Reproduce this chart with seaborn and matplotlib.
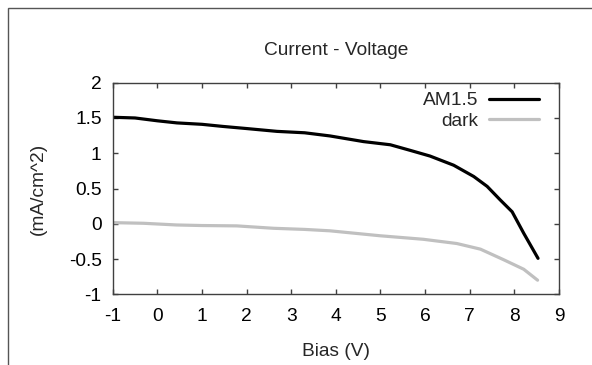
import numpy as np
import pandas as pd
import matplotlib
matplotlib.use("Agg")
import matplotlib.pyplot as plt
import seaborn as sns
from matplotlib.patches import Rectangle

# ---- data ----
bias_am = [-1.0, -0.5, 0.0, 0.44, 1.0, 1.47, 2.0, 2.68, 3.3, 3.87, 4.62, 5.22, 5.67,
           6.11, 6.64, 7.09, 7.39, 7.68, 7.95, 8.21, 8.53]
current_am = [1.51, 1.50, 1.46, 1.43, 1.41, 1.38, 1.35, 1.31, 1.29, 1.245, 1.165, 1.12, 1.04,
              0.96, 0.83, 0.67, 0.53, 0.34, 0.17, -0.135, -0.49]
bias_dark = [-1.0, -0.31, 0.43, 1.0, 1.78, 2.6, 3.3, 3.87, 4.99, 5.96, 6.71, 7.24, 7.76, 8.21, 8.52]
current_dark = [0.016, 0.007, -0.017, -0.025, -0.03, -0.064, -0.08, -0.10, -0.17, -0.22, -0.28,
                -0.36, -0.51, -0.645, -0.80]
series_names = ["AM1.5", "dark"]
x_ticks = [-1, 0, 1, 2, 3, 4, 5, 6, 7, 8, 9]
y_ticks = [-1, -0.5, 0, 0.5, 1, 1.5, 2]
y_tick_labels = ["-1", "-0.5", "0", "0.5", "1", "1.5", "2"]

df = pd.concat([
    pd.DataFrame({"Bias": bias_am, "Current": current_am, "series": series_names[0]}),
    pd.DataFrame({"Bias": bias_dark, "Current": current_dark, "series": series_names[1]}),
], ignore_index=True)

sns.set_style("ticks")
plt.rcParams["font.family"] = ["Liberation Sans", "DejaVu Sans"]
FS = 13.8
plt.rcParams["font.size"] = FS

fig = plt.figure(figsize=(5.92, 3.65), dpi=100)
ax = fig.add_axes([112.7 / 592, 1 - 294.3 / 365, (559 - 112.7) / 592, (294.3 - 82.7) / 365])

sns.lineplot(data=df, x="Bias", y="Current", hue="series", sort=False,
             palette={"AM1.5": "#000000", "dark": "#c0c0c0"}, linewidth=2.3, ax=ax,
             estimator=None)

ax.set_xlim(-1, 9)
ax.set_ylim(-1, 2)
ax.set_xticks(x_ticks)
ax.set_xticklabels([str(t) for t in x_ticks])
ax.set_yticks(y_ticks)
ax.set_yticklabels(y_tick_labels)
ax.tick_params(direction="in", top=True, right=True, length=3.5, width=1,
               color="#404040", labelsize=FS, labelcolor="black", pad=8)
ax.tick_params(axis="x", pad=10)
ax.tick_params(labeltop=False, labelright=False)
for s in ax.spines.values():
    s.set_visible(True)
    s.set_color("#404040")
    s.set_linewidth(1.0)

ax.set_title("Current - Voltage", fontsize=FS, pad=20)
ax.set_xlabel("Bias (V)", fontsize=FS, labelpad=13)
ax.set_ylabel("(mA/cm^2)", fontsize=FS, labelpad=16)

leg = ax.legend(frameon=False, loc="upper right", markerfirst=False, handlelength=2.6,
                fontsize=FS, borderaxespad=0.0, bbox_to_anchor=(0.9718, 0.9924),
                handletextpad=0.55, labelspacing=0.15)
for t in leg.get_texts():
    t.set_ha("right")

fig.patches.append(Rectangle((7.5 / 592, -0.1), 1.2, 1.1 - 7.5 / 365 + 0.0,
                             transform=fig.transFigure, fill=False,
                             edgecolor="#555555", linewidth=1.0))

fig.savefig("out.png", dpi=100)
